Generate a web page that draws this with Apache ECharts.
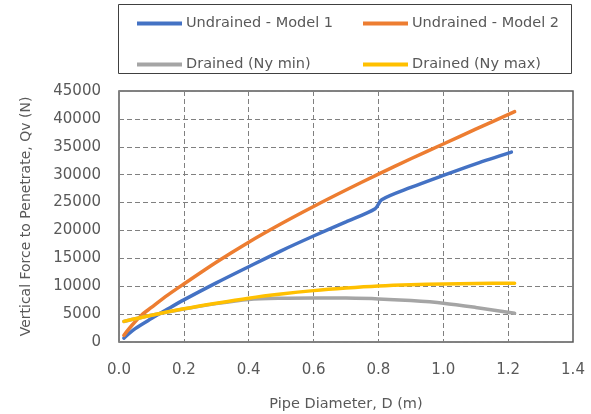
<!DOCTYPE html>
<html>
<head>
<meta charset="utf-8">
<script src="https://cdn.jsdelivr.net/npm/echarts@6/dist/echarts.min.js"></script>
<style>html,body{margin:0;padding:0;background:#fff}#c{width:591px;height:414px}</style>
</head>
<body>
<div id="c"></div>
<script>
const seriesNames = ['Undrained - Model 1', 'Undrained - Model 2', 'Drained (Ny min)', 'Drained (Ny max)'];
const xModel1 = [0.015, 0.05, 0.1, 0.15, 0.2, 0.3, 0.4, 0.5, 0.6, 0.7, 0.79, 0.81, 0.9, 1.0, 1.1, 1.21];
const yModel1 = [700, 2400, 4200, 5900, 7550, 10600, 13500, 16350, 19000, 21550, 23900, 25500, 27700, 29870, 31950, 34050];
const xModel2 = [0.015, 0.04, 0.07, 0.1, 0.15, 0.2, 0.3, 0.4, 0.5, 0.6, 0.7, 0.8, 0.9, 1.0, 1.1, 1.22];
const yModel2 = [1200, 3000, 4850, 6200, 8400, 10400, 14300, 17900, 21200, 24300, 27250, 30100, 32850, 35500, 38150, 41300];
const xDrained = [0.015, 0.1, 0.2, 0.3, 0.4, 0.5, 0.6, 0.7, 0.8, 0.9, 1.0, 1.1, 1.22];
const yNyMin = [3680, 4780, 5900, 6880, 7620, 7850, 7900, 7870, 7730, 7420, 6960, 6200, 5150];
const yNyMax = [3700, 4800, 5950, 6950, 7860, 8600, 9210, 9680, 10050, 10280, 10410, 10500, 10530];
const colors = ['#4472C4', '#ED7D31', '#A5A5A5', '#FFC000'];

const pairs = (xs, ys) => xs.map((x, i) => [x, ys[i]]);
const font = '"DejaVu Sans", sans-serif';
const txt = '#595959';

const chart = echarts.init(document.getElementById('c'), null, {renderer: 'canvas'});

function legendAt(name, left, top) {
  return {
    data: [name], left: left, top: top, orient: 'horizontal',
    itemWidth: 45, itemHeight: 4, itemGap: 4, selectedMode: false,
    icon: 'rect', padding: 0,
    textStyle: {fontFamily: font, fontSize: 14.5, color: txt, padding: [0, 0, 0, -1]}
  };
}

chart.setOption({
  animation: false,
  color: colors,
  legend: [
    legendAt(seriesNames[0], 137, 16),
    legendAt(seriesNames[1], 363, 16),
    legendAt(seriesNames[2], 137, 57),
    legendAt(seriesNames[3], 363, 57)
  ],
  graphic: [{
    type: 'rect', shape: {x: 118.5, y: 4.5, width: 453, height: 69},
    style: {fill: 'none', stroke: '#404040', lineWidth: 1}, z: 0
  }],
  grid: {left: 119, right: 18, top: 91, bottom: 72, show: true, borderColor: '#595959', borderWidth: 1.5,
         containLabel: false, outerBoundsMode: 'none'},
  xAxis: {
    type: 'value', min: 0, max: 1.4, interval: 0.2,
    name: 'Pipe Diameter, D (m)', nameLocation: 'middle', nameGap: 55,
    nameTextStyle: {fontFamily: font, fontSize: 14.5, color: txt},
    axisLabel: {formatter: v => v.toFixed(1), fontFamily: font, fontSize: 15, color: txt, margin: 21},
    axisLine: {show: false}, axisTick: {show: false},
    splitLine: {show: true, lineStyle: {color: '#808080', type: [5, 3], width: 1}}
  },
  yAxis: {
    type: 'value', min: 0, max: 45000, interval: 5000,
    name: 'Vertical Force to Penetrate, Qv (N)', nameLocation: 'middle', nameGap: 86,
    nameTextStyle: {fontFamily: font, fontSize: 14, color: txt},
    axisLabel: {formatter: v => String(v), fontFamily: font, fontSize: 15, color: txt, margin: 18},
    axisLine: {show: false}, axisTick: {show: false},
    splitLine: {show: true, lineStyle: {color: '#808080', type: [5, 3], width: 1}}
  },
  series: [
    {name: seriesNames[0], type: 'line', data: pairs(xModel1, yModel1)},
    {name: seriesNames[1], type: 'line', data: pairs(xModel2, yModel2)},
    {name: seriesNames[2], type: 'line', data: pairs(xDrained, yNyMin)},
    {name: seriesNames[3], type: 'line', data: pairs(xDrained, yNyMax)}
  ].map((s, i) => Object.assign(s, {
    smooth: 0.3, showSymbol: false, symbol: 'none',
    lineStyle: {width: 3.5, color: colors[i], cap: 'round'}, z: 2 + i
  }))
});
</script>
</body>
</html>
